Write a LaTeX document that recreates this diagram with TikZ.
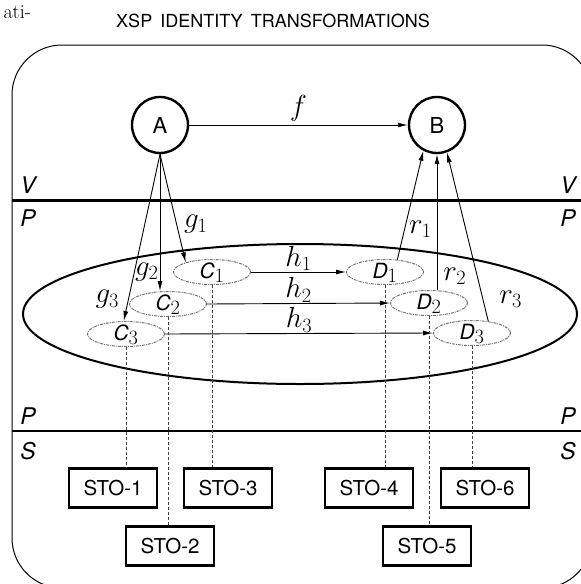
\RequirePackage{fix-cm}
\documentclass[tikz,border=0pt]{standalone}
\usepackage{fontspec}
\usepackage{tikz}
\usetikzlibrary{calc}
\usetikzlibrary{arrows.meta}
\usetikzlibrary{shapes.geometric}
\newfontfamily\heros{TeX Gyre Heros}
\tikzset{>={Latex[length=10pt,width=5pt]}}
\colorlet{objcol}{black!55}
\colorlet{dropcol}{black!75}
\newcommand{\obj}[2]{\raisebox{-6pt}[0pt][0pt]{{\heros\itshape\fontsize{21}{24}\selectfont #1}$_{#2}$}}
\tikzset{
	frame/.style={line width=1pt},
	layer/.style={line width=3pt},
	lyr/.style={font=\heros\itshape\fontsize{23}{26}\selectfont,inner sep=0pt},
	state/.style={circle,draw,line width=2.4pt,minimum size=56pt,inner sep=0pt,
		font=\heros\fontsize{22}{26}\selectfont},
	obj/.style={ellipse,draw=objcol,line width=1pt,
		dash pattern=on 3pt off 1pt on 1pt off 1pt,
		minimum width=77pt,minimum height=25pt,inner sep=0pt,
		font=\fontsize{29}{32}\selectfont},
	store/.style={draw,line width=2.4pt,minimum width=88pt,minimum height=39pt,
		inner sep=0pt,font=\heros\fontsize{20.5}{24}\selectfont},
	lbl/.style={font=\fontsize{29}{32}\selectfont,inner sep=1pt},
	map/.style={->,line width=0.9pt},
	drop/.style={dropcol,line width=0.6pt,dash pattern=on 3pt off 2pt},
}

\begin{document}
\begin{tikzpicture}[x=1pt,y=-1pt]
	\useasboundingbox (0,0) rectangle (581,584);
	\clip (0,0) rectangle (581,584);
	
	\node[anchor=east,font=\fontsize{20}{22}\selectfont,inner sep=0pt] (cut) at (31,12) {ati-};
	\node[font=\heros\fontsize{18}{20}\selectfont,inner sep=0pt] (title) at (273,21)
	{XSP\hspace{0.45em}IDENTITY\hspace{0.45em}TRANSFORMATIONS};
	
	% FRAME AND LAYERS
	\draw[frame,rounded corners=50pt] (12,45) rectangle (592,588);
	\draw[layer] (12,200) -- (592,200);
	\draw[layer,line width=1.8pt] (12,431) -- (592,431);
	\node[lyr] (V1) at (28,185) {V};
	\node[lyr] (P1) at (28,218) {P};
	\node[lyr] (V2) at (568,185) {V};
	\node[lyr] (P2) at (568,218) {P};
	\node[lyr] (P3) at (28,416) {P};
	\node[lyr] (S1) at (28,451) {S};
	\node[lyr] (P4) at (568,416) {P};
	\node[lyr] (S2) at (568,451) {S};
	
	% STATES
	\node[state] (A) at (160,125) {A};
	\node[state] (B) at (437,125) {B};
	\draw[map] (A) -- node[lbl,above=2pt] {$f$} (B);
	
	% DOMAIN
	\draw[line width=2pt] (300,314) ellipse [x radius=277, y radius=70];
	
	\node[obj] (C1) at (212,272) {\obj{C}{1}};
	\node[obj] (C2) at (168,304) {\obj{C}{2}};
	\node[obj] (C3) at (126,334) {\obj{C}{3}};
	\node[obj] (D1) at (385,272) {\obj{D}{1}};
	\node[obj] (D2) at (429,303) {\obj{D}{2}};
	\node[obj] (D3) at (472,333) {\obj{D}{3}};
	
	\draw[map] (C1.east) -- node[lbl,above] {$h_1$} (D1.west);
	\draw[map] (C2.east) -- node[lbl,above] {$h_2$} (D2.west);
	\draw[map] (C3.east) -- node[lbl,above] {$h_3$} (D3.west);
	
	\draw[map] (A.south) -- node[lbl,pos=0.65,right=6pt] {$g_1$} (C1.160);
	\draw[map] (A.south) -- node[lbl,pos=0.86,left=0pt] {$g_2$} (A.south |- C2.north);
	\draw[map] (A.south) -- node[lbl,pos=0.87,left=8pt] {$g_3$} (C3.100);
	
	\draw[map] (D1.45) -- node[lbl,pos=0.28,right=3pt] {$r_1$} (B.-118);
	\draw[map] (B.south |- D2.north) -- node[lbl,pos=0.1,right=5pt] {$r_2$} (B.south);
	\draw[map] (D3.36) -- node[lbl,pos=0.13,right=15pt] {$r_3$} (B.-70);
	
	% STORAGE
	\node[store] (T1) at (113,488) {STO-1};
	\node[store] (T2) at (170,546) {STO-2};
	\node[store] (T3) at (228,488) {STO-3};
	\node[store] (T4) at (369,488) {STO-4};
	\node[store] (T5) at (427,546) {STO-5};
	\node[store] (T6) at (485,488) {STO-6};
	
	\draw[drop] (C3.south) -- (C3.south |- T1.north);
	\draw[drop] (C2.south) -- (C2.south |- T2.north);
	\draw[drop] (C1.south) -- (C1.south |- T3.north);
	\draw[drop] (D1.south) -- (D1.south |- T4.north);
	\draw[drop] (D2.south) -- (D2.south |- T5.north);
	\draw[drop] (D3.south) -- (D3.south |- T6.north);
\end{tikzpicture}
\end{document}
